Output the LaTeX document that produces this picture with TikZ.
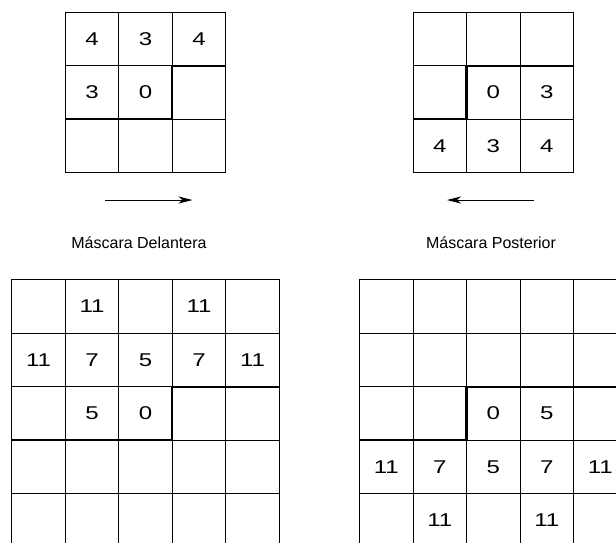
\documentclass[tikz,border=0pt]{standalone}
\usepackage{fontspec}
\setmainfont{Liberation Sans}
\newfontfamily\widedigits[FakeStretch=1.3]{Liberation Sans}
\usetikzlibrary{matrix, arrows.meta}

\begin{document}
\begin{tikzpicture}[
    x=1pt,y=-1pt,
    digits/.style={font=\widedigits\fontsize{18.5}{18.5}\selectfont},
    maskgrid/.style={matrix of nodes, nodes in empty cells, row sep=-0.9pt, column sep=-0.9pt, digits,
        nodes={draw, line width=0.9pt, minimum size=53.5pt, inner sep=0pt, outer sep=0pt, anchor=center, digits}},
    border/.style={line width=2.4pt},
    sweep/.style={line width=0.9pt, -{Stealth[length=14pt,width=7pt,inset=4pt]}},
    caption/.style={font=\fontsize{16}{16}\selectfont}
]
    \useasboundingbox (0,0) rectangle (616,542);
    \clip (0,0) rectangle (616,542);

    % --- Masks ---
    \matrix[maskgrid] (mfwd) at (145.5, 92.5) {
        4 & 3 & 4 \\
        3 & 0 &   \\
          &   &   \\
    };
    \matrix[maskgrid] (mbwd) at (493.3, 92.5) {
          &   &   \\
          & 0 & 3 \\
        4 & 3 & 4 \\
    };

    \draw[border] (mfwd-3-1.north west) -- (mfwd-2-3.south west) -- (mfwd-2-3.north west) -- (mfwd-2-3.north east);
    \draw[border] (mbwd-2-1.south west) -- (mbwd-2-2.south west) -- (mbwd-2-2.north west) -- (mbwd-2-3.north east);

    % --- Scan directions ---
    \coordinate (fwdtail) at (105, 200);
    \coordinate (fwdtip) at (192.5, 200);
    \coordinate (bwdtail) at (533.7, 200);
    \coordinate (bwdtip) at (447, 200);

    \draw[sweep] (fwdtail) -- (fwdtip);
    \draw[sweep] (bwdtail) -- (bwdtip);

    \node[caption] (fwdlabel) at (139, 242.5) {Máscara Delantera};
    \node[caption] (bwdlabel) at (491, 242.5) {Máscara Posterior};

    % --- Larger masks ---
    \matrix[maskgrid] (gfwd) at (145.5, 413.5) {
           & 11 &   & 11 &    \\
        11 & 7  & 5 & 7  & 11 \\
           & 5  & 0 &    &    \\
           &    &   &    &    \\
           &    &   &    &    \\
    };
    \matrix[maskgrid] (gbwd) at (493.3, 413.5) {
           &    &   &    &    \\
           &    &   &    &    \\
           &    & 0 & 5  &    \\
        11 & 7  & 5 & 7  & 11 \\
           & 11 &   & 11 &    \\
    };

    \draw[border] (gfwd-3-1.south west) -- (gfwd-3-4.south west) -- (gfwd-3-4.north west) -- (gfwd-3-5.north east);
    \draw[border] (gbwd-3-1.south west) -- (gbwd-3-3.south west) -- (gbwd-3-3.north west) -- (gbwd-3-5.north east);

\end{tikzpicture}
\end{document}
